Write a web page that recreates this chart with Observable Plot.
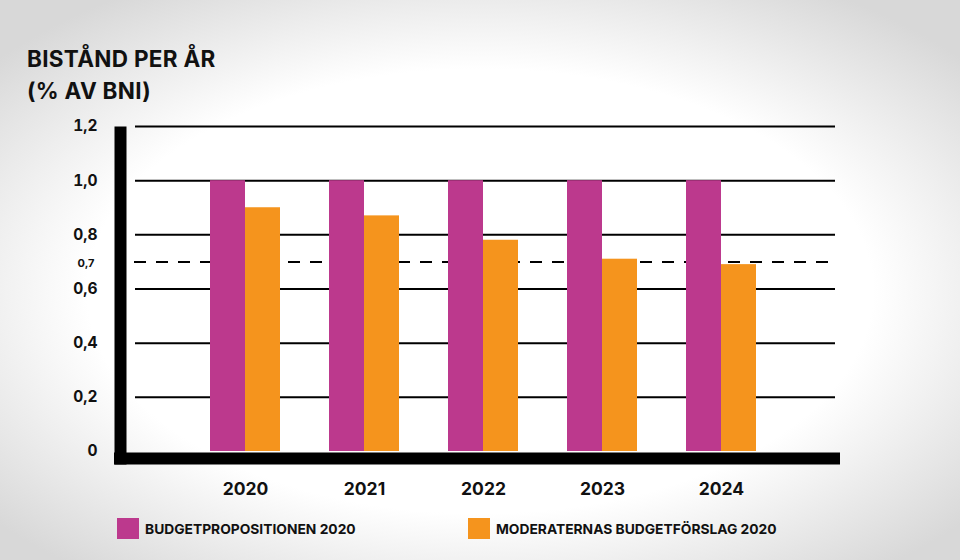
<!DOCTYPE html>
<html>
<head>
<meta charset="utf-8">
<script src="https://cdn.jsdelivr.net/npm/d3@7"></script>
<script src="https://cdn.jsdelivr.net/npm/@observablehq/plot@0.6"></script>
<style>
  html, body { margin: 0; padding: 0; }
  body {
    width: 960px; height: 560px; position: relative; overflow: hidden;
    background: radial-gradient(ellipse 66% 64% at 50% 52%, #ffffff 62%, #d8d8d8 100%);
    font-family: Inter, "Open Sans", sans-serif; color: #111;
  }
  #title {
    position: absolute; left: 27px; top: 43px;
    font-size: 22.5px; font-weight: 700; line-height: 32px; letter-spacing: 0.3px;
  }
  #chart { position: absolute; left: 0; top: 110px; }
  #legend { position: absolute; left: 0; top: 518px; width: 960px; height: 24px; }
  .item { position: absolute; top: 0; display: flex; align-items: center; }
  .sw { width: 22px; height: 21px; margin-right: 6px; }
  .lab { font-size: 13.8px; font-weight: 700; letter-spacing: 0px; }
</style>
</head>
<body>
<div id="title">BISTÅND PER ÅR<br>(% AV BNI)</div>
<div id="chart"></div>
<div id="legend"></div>
<script>
const years = ["2020", "2021", "2022", "2023", "2024"];
const budgetpropositionen = [1.0, 1.0, 1.0, 1.0, 1.0];
const moderaterna = [0.9, 0.87, 0.78, 0.71, 0.69];
const yTicks = [0, 0.2, 0.4, 0.6, 0.8, 1.0, 1.2];
const yTickLabels = ["0", "0,2", "0,4", "0,6", "0,8", "1,0", "1,2"];
const target = 0.7;
const targetLabel = "0,7";
const seriesNames = ["BUDGETPROPOSITIONEN 2020", "MODERATERNAS BUDGETFÖRSLAG 2020"];
const seriesColors = ["#bc398d", "#f5941d"];

const rows = years.map((year, i) => ({year, budget: budgetpropositionen[i], mod: moderaterna[i]}));

const chart = Plot.plot({
  width: 960,
  height: 400,
  marginTop: 16,
  marginBottom: 59,
  marginLeft: 127,
  marginRight: 121,
  style: {background: "transparent", fontFamily: "Inter, 'Open Sans', sans-serif", fontWeight: 700, color: "#111", overflow: "visible"},
  x: {domain: years, paddingInner: 0.412, paddingOuter: 0.697, label: null},
  y: {domain: [0, 1.2], label: null},
  marks: [
    Plot.ruleY(yTicks.filter(d => d > 0), {stroke: "#000", strokeWidth: 2, insetLeft: 8, insetRight: 4}),
    Plot.ruleY([target], {stroke: "#000", strokeWidth: 2, strokeDasharray: "12,10", insetLeft: 7, insetRight: 4}),
    Plot.barY(rows, {x: "year", y: "budget", fill: seriesColors[0], insetRight: 35}),
    Plot.barY(rows, {x: "year", y: "mod", fill: seriesColors[1], insetLeft: 35}),
    Plot.ruleY([0], {stroke: "#000", strokeWidth: 12, dy: 7, insetLeft: -13, insetRight: -1, strokeLinecap: "butt"}),
    Plot.frame({anchor: "left", stroke: "#000", strokeWidth: 12, dx: -7, insetTop: 0, insetBottom: -13, strokeLinecap: "butt"}),
    Plot.axisY(yTicks, {tickSize: 0, tickPadding: 30, fontSize: 15.5, label: null,
      tickFormat: d => yTickLabels[yTicks.indexOf(d)]}),
    Plot.text([target], {y: d => d, text: () => targetLabel, frameAnchor: "left", textAnchor: "end",
      dx: -33, dy: 2, fontSize: 11, fontWeight: 700, letterSpacing: "-1px"}),
    Plot.axisX({tickSize: 0, tickPadding: 31, fontSize: 17.5, label: null})
  ]
});
document.getElementById("chart").appendChild(chart);

const legend = document.getElementById("legend");
const legendLefts = [117, 468];
seriesNames.forEach((name, i) => {
  const item = document.createElement("div");
  item.className = "item";
  item.style.left = legendLefts[i] + "px";
  item.innerHTML = `<div class="sw" style="background:${seriesColors[i]}"></div><div class="lab">${name}</div>`;
  legend.appendChild(item);
});
</script>
</body>
</html>
